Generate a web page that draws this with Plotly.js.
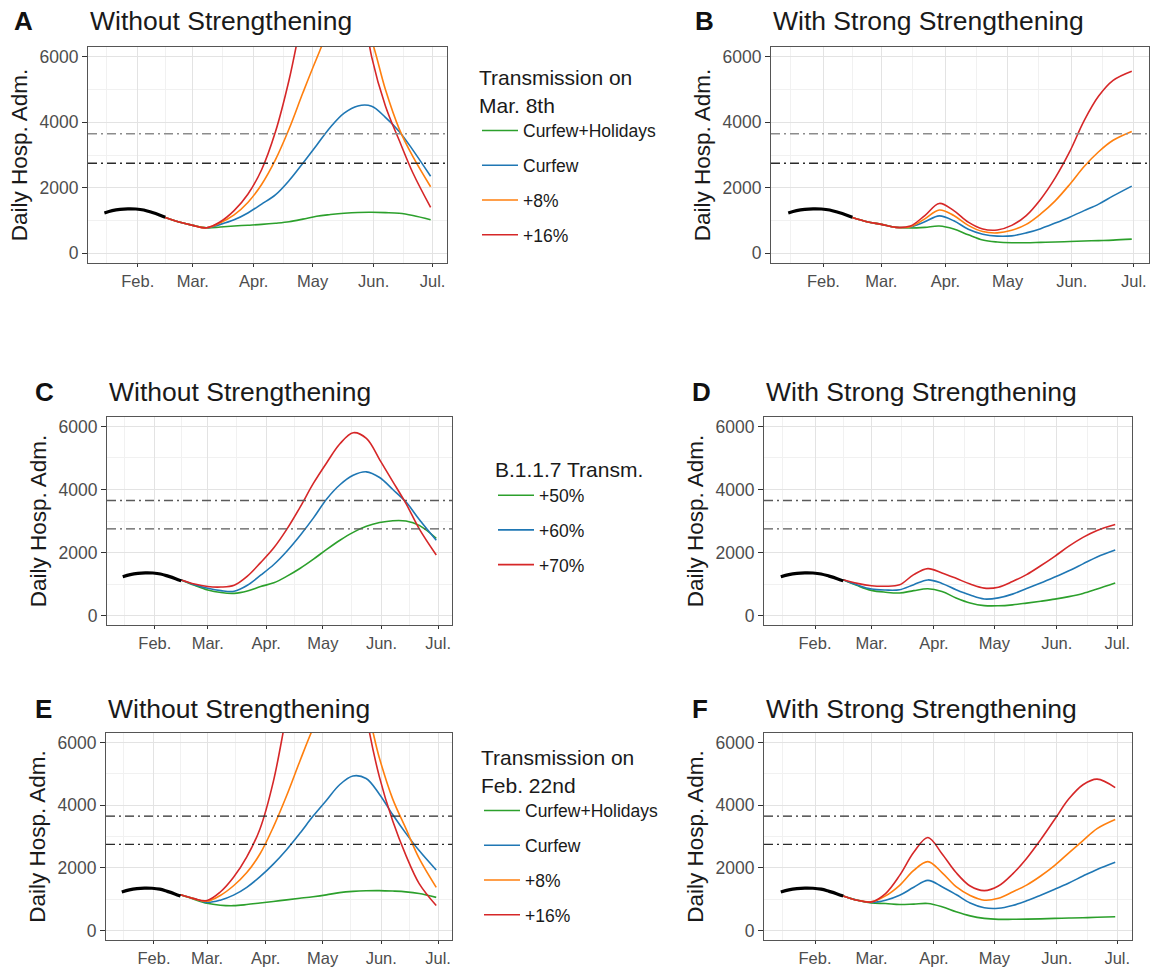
<!DOCTYPE html>
<html><head><meta charset="utf-8">
<script src="https://cdn.plot.ly/plotly-3.0.1.min.js"></script>
<style>html,body{margin:0;padding:0;background:#fff}#chart{width:1151px;height:968px}</style>
</head><body><div id="chart"></div>
<script>
// ---------------- DATA ----------------
const monthTicks = ['2021-02-01','2021-03-01','2021-04-01','2021-05-01','2021-06-01','2021-07-01'];
const monthLabels = ['Feb.','Mar.','Apr.','May','Jun.','Jul.'];
const minorDates = ['2021-01-16','2021-02-15','2021-03-16','2021-04-16','2021-05-16','2021-06-16'];
const yTicks = [0,2000,4000,6000];
const yMinor = [1000,3000,5000];
const thresholds = [2750,3650];

const obsDates = ['2021-01-15','2021-01-19','2021-01-23','2021-01-27','2021-01-31','2021-02-04','2021-02-08','2021-02-12','2021-02-15'];
const obsValues = [1230,1300,1340,1355,1350,1320,1250,1170,1100];

const simDates = ['2021-02-15','2021-02-22','2021-03-01','2021-03-08','2021-03-15','2021-03-22','2021-03-29','2021-04-05','2021-04-12','2021-04-19','2021-04-26','2021-05-03','2021-05-10','2021-05-17','2021-05-24','2021-05-31','2021-06-07','2021-06-14','2021-06-21','2021-06-30'];

// Panel A : without strengthening, transmission on Mar. 8th
const aCurfewHolidays = [1090,950,850,775,800,830,855,880,915,960,1040,1130,1180,1220,1245,1250,1240,1220,1150,1020];
const aCurfew         = [1090,950,850,775,880,1020,1230,1500,1780,2220,2750,3300,3850,4280,4500,4490,4150,3720,3150,2350];
const aPlus8          = [1090,950,850,775,930,1170,1550,2100,2850,3800,4900,5950,6900,7500,7500,6500,5000,3800,2950,2030];
const aPlus16         = [1090,950,850,775,960,1300,1800,2550,3700,5300,7300,9000,10000,10000,8500,6000,4500,3450,2450,1400];
// Panel B : with strong strengthening, transmission on Mar. 8th
const bCurfewHolidays = [1090,960,880,790,770,790,830,740,560,400,340,320,320,330,340,355,370,385,400,430];
const bCurfew         = [1090,960,880,790,800,960,1140,990,730,580,520,530,620,750,920,1100,1300,1500,1750,2050];
const bPlus8          = [1090,960,880,790,810,1050,1320,1150,850,660,620,700,880,1200,1600,2100,2650,3100,3450,3720];
const bPlus16         = [1090,960,880,790,830,1150,1520,1300,950,740,710,850,1150,1650,2300,3100,4050,4800,5280,5560];
// Panel C : without strengthening, B.1.1.7 transmissibility
const c50 = [1130,960,812,730,705,780,920,1040,1250,1500,1790,2100,2390,2640,2830,2950,3010,3000,2860,2450];
const c60 = [1130,980,865,790,770,960,1280,1620,2050,2550,3100,3700,4150,4450,4560,4380,4000,3600,3050,2390];
const c70 = [1130,1000,920,905,960,1250,1680,2150,2750,3450,4200,4850,5450,5800,5620,4950,4250,3550,2750,1920];
// Panel D : with strong strengthening, B.1.1.7 transmissibility
const d50 = [1135,950,799,740,715,790,850,760,560,400,315,310,340,395,455,520,600,700,840,1030];
const d60 = [1135,970,841,810,820,980,1130,1020,820,650,525,560,680,860,1030,1220,1420,1640,1860,2080];
const d70 = [1135,1020,946,930,977,1300,1490,1350,1180,1000,870,900,1080,1300,1580,1880,2200,2480,2700,2890];
// Panel E : without strengthening, transmission on Feb. 22nd
const eCurfewHolidays = [1140,1000,870,810,795,830,880,930,980,1030,1080,1140,1210,1250,1270,1275,1260,1235,1180,1060];
const eCurfew         = [1140,1020,900,970,1130,1380,1720,2120,2580,3100,3650,4150,4650,4930,4850,4350,3700,3100,2550,1930];
const ePlus8          = [1140,1020,935,1120,1430,1850,2450,3300,4300,5400,6450,7300,7800,7900,7100,5500,4200,3250,2300,1380];
const ePlus16         = [1140,1020,960,1230,1700,2350,3250,4750,6900,9000,10800,11800,11500,10000,6900,4900,3500,2400,1500,800];
// Panel F : with strong strengthening, transmission on Feb. 22nd
const fCurfewHolidays = [1106,969,880,863,832,845,863,760,600,470,390,358,360,365,375,390,400,410,425,442];
const fCurfew         = [1106,969,900,969,1127,1380,1600,1400,1150,880,727,710,800,950,1130,1320,1520,1740,1950,2180];
const fPlus8          = [1106,969,916,1106,1443,1917,2200,1850,1400,1120,969,1030,1230,1450,1740,2080,2480,2870,3250,3540];
const fPlus16         = [1106,969,916,1180,1759,2496,2970,2450,1850,1420,1274,1420,1800,2300,2900,3550,4200,4650,4830,4560];

const scenarioNames = ['Curfew+Holidays','Curfew','+8%','+16%'];
const variantNames = ['+50%','+60%','+70%'];
const panelTitles = ['Without Strengthening','With Strong Strengthening','Without Strengthening','With Strong Strengthening','Without Strengthening','With Strong Strengthening'];
const panelLetters = ['A','B','C','D','E','F'];
const yTitle = 'Daily Hosp. Adm.';

// ---------------- STYLE / LAYOUT ----------------
const W = 1151, H = 968;
const FONT = 'Liberation Sans, Arial, Helvetica, sans-serif';
const GREEN='#2ca02c', BLUE='#1f77b4', ORANGE='#ff7f0e', RED='#d62728';
const scenarioColors = [GREEN, BLUE, ORANGE, RED];
const variantColors = [GREEN, BLUE, RED];

// plot boxes in pixels [left, right, top, bottom]
const boxes = [
  [88, 447, 47, 263],
  [771, 1149, 47, 263],
  [107, 452, 417, 625],
  [764, 1132, 417, 625],
  [106, 452, 733, 940],
  [764, 1132, 733, 940]
];
const letterX = [12, 693, 33, 690, 33, 690];
const titleY = [21, 21, 392, 392, 709, 709];
const threshColors = [['#2b2b2b','#8c8c8c'],['#2b2b2b','#8c8c8c'],['#5a5a5a','#5a5a5a'],['#5a5a5a','#5a5a5a'],['#2b2b2b','#2b2b2b'],['#2b2b2b','#2b2b2b']];

const px = x => x / W;
const py = y => 1 - y / H;

const traces = [];
function addLine(panel, y, color, name, legendId, show) {
  const s = panel === 0 ? '' : String(panel + 1);
  traces.push({
    type: 'scatter', mode: 'lines', x: simDates, y: y,
    xaxis: 'x' + s, yaxis: 'y' + s,
    line: {color: color, width: 1.6, shape: 'spline', smoothing: 1},
    name: name, legend: legendId, legendgroup: legendId + name,
    showlegend: show, hoverinfo: 'skip'
  });
}
function addObs(panel) {
  const s = panel === 0 ? '' : String(panel + 1);
  traces.push({
    type: 'scatter', mode: 'lines', x: obsDates, y: obsValues,
    xaxis: 'x' + s, yaxis: 'y' + s,
    line: {color: '#000', width: 3.2, shape: 'spline'},
    showlegend: false, hoverinfo: 'skip'
  });
}

const panelSeries = [
  [aCurfewHolidays, aCurfew, aPlus8, aPlus16],
  [bCurfewHolidays, bCurfew, bPlus8, bPlus16],
  [c50, c60, c70],
  [d50, d60, d70],
  [eCurfewHolidays, eCurfew, ePlus8, ePlus16],
  [fCurfewHolidays, fCurfew, fPlus8, fPlus16]
];
const legendIds = ['legend','legend','legend2','legend2','legend3','legend3'];

panelSeries.forEach((series, p) => {
  const isVariant = (p === 2 || p === 3);
  const names = isVariant ? variantNames : scenarioNames;
  const colors = isVariant ? variantColors : scenarioColors;
  series.forEach((vals, i) => addLine(p, vals, colors[i], names[i], legendIds[p], p % 2 === 0));
  addObs(p);
});

const layout = {
  width: W, height: H,
  margin: {l: 0, r: 0, t: 0, b: 0},
  paper_bgcolor: '#fff', plot_bgcolor: '#fff',
  font: {family: FONT, color: '#1a1a1a'},
  showlegend: true,
  shapes: [], annotations: []
};

boxes.forEach((b, p) => {
  const s = p === 0 ? '' : String(p + 1);
  layout['xaxis' + s] = {
    type: 'date', domain: [px(b[0]), px(b[1])], anchor: 'y' + s,
    range: ['2021-01-06 16:00', '2021-07-08 08:00'],
    tickmode: 'array', tickvals: monthTicks, ticktext: monthLabels,
    ticks: 'outside', ticklen: 3, tickcolor: '#333', tickwidth: 1,
    tickfont: {size: 16.5, color: '#4d4d4d', family: FONT},
    showgrid: true, gridcolor: '#e3e3e3', gridwidth: 1,
    minor: {tickmode: 'array', tickvals: minorDates, showgrid: true, gridcolor: '#f1f1f1', gridwidth: 1, ticks: ''},
    showline: true, linecolor: '#555', linewidth: 1, mirror: true,
    zeroline: false, fixedrange: true
  };
  layout['yaxis' + s] = {
    domain: [py(b[3]), py(b[2])], anchor: 'x' + s,
    range: [-300, 6300],
    tickmode: 'array', tickvals: yTicks, ticktext: yTicks.map(String),
    ticks: 'outside', ticklen: 5, tickcolor: '#333', tickwidth: 1,
    tickfont: {size: 17.5, color: '#4d4d4d', family: FONT},
    showgrid: true, gridcolor: '#e3e3e3', gridwidth: 1,
    minor: {tickmode: 'array', tickvals: yMinor, showgrid: true, gridcolor: '#f1f1f1', gridwidth: 1, ticks: ''},
    showline: true, linecolor: '#555', linewidth: 1, mirror: true,
    zeroline: false, fixedrange: true,
    title: {text: yTitle, font: {size: 22.5, color: '#1a1a1a', family: FONT}, standoff: 5}
  };
  thresholds.forEach((t, k) => {
    layout.shapes.push({
      type: 'line', xref: 'x' + s + ' domain', yref: 'y' + s,
      x0: 0, x1: 1, y0: t, y1: t,
      line: {color: threshColors[p][k], width: 1.4, dash: '9px,4px,2px,4px'}
    });
  });
  layout.annotations.push({
    xref: 'paper', yref: 'paper', x: px(letterX[p]), y: py(titleY[p]),
    xanchor: 'left', yanchor: 'middle', showarrow: false,
    text: '<b>' + panelLetters[p] + '</b>', font: {size: 26, color: '#111', family: FONT}
  });
  layout.annotations.push({
    xref: 'paper', yref: 'paper', x: px(b[0]), y: py(titleY[p]),
    xanchor: 'left', yanchor: 'middle', showarrow: false,
    text: panelTitles[p], font: {size: 26.5, color: '#1a1a1a', family: FONT}
  });
});

const legendBase = {
  xanchor: 'left', yanchor: 'top', bgcolor: 'rgba(0,0,0,0)',
  font: {size: 17.5, color: '#1a1a1a', family: FONT},
  traceorder: 'grouped', tracegroupgap: 9, itemwidth: 36
};
layout.legend = Object.assign({}, legendBase, {
  x: px(477), y: py(58),
  title: {text: 'Transmission on<br>Mar. 8th', font: {size: 21, family: FONT, color: '#1a1a1a'}}
});
layout.legend2 = Object.assign({}, legendBase, {
  x: px(493), y: py(450),
  title: {text: 'B.1.1.7 Transm.', font: {size: 21, family: FONT, color: '#1a1a1a'}}
});
layout.legend3 = Object.assign({}, legendBase, {
  x: px(479), y: py(738),
  title: {text: 'Transmission on<br>Feb. 22nd', font: {size: 21, family: FONT, color: '#1a1a1a'}}
});

Plotly.newPlot('chart', traces, layout, {displayModeBar: false, staticPlot: true});
</script></body></html>
